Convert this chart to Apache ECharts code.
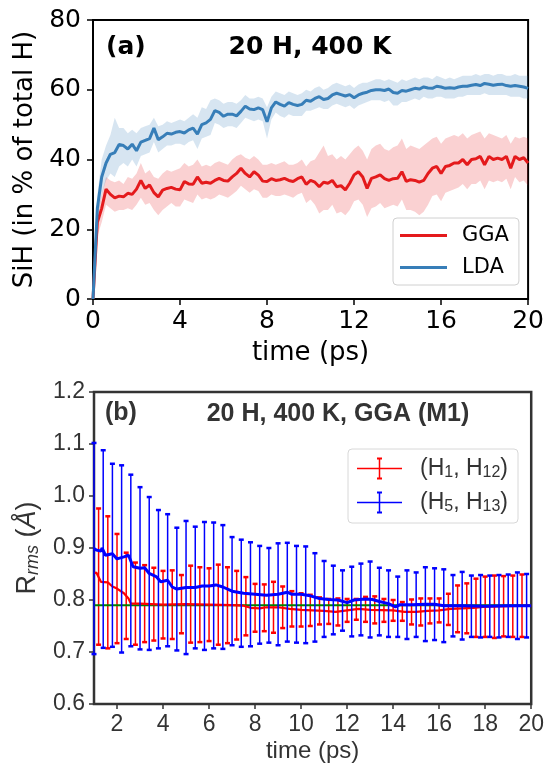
<!DOCTYPE html>
<html><head><meta charset="utf-8">
<script src="https://cdn.jsdelivr.net/npm/echarts@6/dist/echarts.min.js"></script>
<style>html,body{margin:0;padding:0;background:#fff}#c{width:547px;height:764px}</style>
</head><body><div id="c"></div><script>
// ---------- Panel (a) data ----------
const tTop = [0,0.2,0.4,0.6,0.8,1.0,1.2,1.4,1.6,1.8,2.0,2.2,2.4,2.6,2.8,3.0,3.2,3.4,3.6,3.8,4.0,4.2,4.4,4.6,4.8,5.0,5.2,5.4,5.6,5.8,6.0,6.2,6.4,6.6,6.8,7.0,7.2,7.4,7.6,7.8,8.0,8.2,8.4,8.6,8.8,9.0,9.2,9.4,9.6,9.8,10.0,10.2,10.4,10.6,10.8,11.0,11.2,11.4,11.6,11.8,12.0,12.2,12.4,12.6,12.8,13.0,13.2,13.4,13.6,13.8,14.0,14.2,14.4,14.6,14.8,15.0,15.2,15.4,15.6,15.8,16.0,16.2,16.4,16.6,16.8,17.0,17.2,17.4,17.6,17.8,18.0,18.2,18.4,18.6,18.8,19.0,19.2,19.4,19.6,19.8,20.0];
const ggaMean = [0,22,26,31.5,30,29,29.5,29.3,30.3,30,31.5,34,31.7,32.7,30.5,29.3,31.2,31.7,32,31.5,31.3,33.7,33,32.9,35,33.2,33.5,33.2,34,34.6,34,33.8,35,36,37.5,36,35,36.5,35.5,33.8,33.7,34.5,34,34.2,34.6,34,33.7,34.5,35,32.9,34,33.5,32.2,33.5,33.2,34,32.2,32.5,31.3,33.2,35.6,36.5,35,31.7,34.6,35,35.6,34.5,34,34.5,34.6,36.5,33.7,34.2,34,33.5,34,36,37.5,38,36,38,38.3,39,39,40,38.5,40,40.2,40.9,38.5,40.9,40,40.4,40,40.9,37.5,40.9,40,40.5,39];
const ggaHi = [0,25,30,35,34,33.5,34,33,35,34.5,36,39,36,37,35,34.5,36,37,36.5,37,37.5,39,38,38.5,40,38,38.5,38,39,39.5,39,38.5,40,41,41.5,40.5,40,41,40,38.5,38.5,39,38.5,39,39.5,38.5,38.5,39,40,38,39.5,40,42,44,41,41.5,40,41,40,41.5,43,44,42.5,40,43,44,44.5,43,42.5,43.5,44,46,43,44,43.5,43,44,45,46,46.5,44.5,46,46.5,47,46.5,47.5,46,47,47.5,48,46,47.5,47,46.5,46,47,44.5,46.5,46,46.5,46];
const ggaLo = [0,18,22,27,26,25,25.5,25.5,26,25.5,27,29,27,27.5,25.5,24,25.5,26.5,27.5,26.5,26.5,28.5,28,27.5,30,28.5,29,28.5,29,30,29.5,29,30,31,32.5,31.5,30.5,31.5,31,29,29,30,29.5,29.5,30,29.5,29,30,30.5,27.5,28.5,27,24.5,25.5,25.5,27,24.5,25,24,25.5,28,28.5,27,23.5,26,26.5,27.5,26,26.5,27,26.5,28.5,25.5,25.5,25,24,25,27,29.5,30,28,30.5,31,31.5,32,33,31.5,33,33,34,31.5,34,33.5,34,33.5,34.5,31.5,35,33.5,34,32.5];
const ldaMean = [0,26,35,39,41.5,42,44.3,44,43,44.4,42.5,45,45.5,46,49,45.7,46.5,47.5,47.3,47.8,48,47.6,48.5,49,47.3,50,50.5,51.5,54,53.5,52.4,53,53,52.5,53.8,55.3,54.5,54.3,54.8,54.3,50.8,54.8,56.5,55.8,55.3,56.3,55.8,55.5,55.8,57,56.7,57.5,58,57.2,57.5,58.5,59,58.6,58.2,58.6,57.7,58.5,59,59.3,59.8,60,60,59.8,60.2,59.2,59,59.8,59.6,60,60.4,60.2,60.8,60.5,60.4,61,60.8,60.4,60.6,60.4,60.8,61,61,61.3,61.5,61.2,61.8,61.6,61.3,61.5,61.6,61.2,61,61.2,61,60.8,60.4];
const ldaHi = [0,30,40,44,47,52,49,49,47.5,48.5,47.5,49,49.5,50,52,49.5,50,51,50.5,51,51.5,51,52,53,52,55,54.5,57,57.5,57,56,56.5,56.5,56,57,58.5,57.5,57.5,58,57.5,55,58,59.5,59,58.5,59.5,59,58.5,59,60,59.5,60.5,61,60,60.5,61.5,62,61.5,61,61.5,60.5,61.5,62,62,62.5,63,63,62.5,63,62.5,62,63,62.5,63,63.5,63,63.5,63.5,63,64,63.5,63,63.5,63,63.5,64,64,64,64.5,64,64.5,64.5,64,64.5,64.5,64,64,64.5,64,64,64];
const ldaLo = [0,22,30,34,36,35,38,39,38,40,38,41,41.5,42,45,42,43,44,44,44.5,44.5,44,45,45.5,43,46,46.5,47,50.5,50,49,49.5,49.5,49,50.5,52,51.5,51,51.5,51,46,51.5,53.5,52.5,52,53,52.5,52.5,52.5,54,54,54.5,55,54.5,54.5,55.5,56,55.5,55,55.5,54.5,55.5,56,56.5,57,57,57,56.5,57,55.5,55.5,56.5,56.5,57,57.5,57,58,57.5,57.5,58,58,57.5,57.5,57.5,58,58,58.5,58.5,58.5,58.5,59,58.5,58.5,58.5,58.5,58.5,58,58,58,57.5,57.5];

// ---------- Panel (b) data ----------
const redT = [1.0,1.1,1.3,1.6,1.8,2.0,2.3,2.5,2.6,3.0,4.0,5.0,6.0,7.0,7.5,7.8,8.2,8.5,9.0,9.5,10.0,11.0,11.5,12.0,12.5,13.0,14.0,14.5,15.0,15.5,16.0,16.5,17.0,17.5,18.0,19.0,20.0];
const redV = [0.851,0.853,0.835,0.834,0.826,0.822,0.813,0.803,0.793,0.793,0.791,0.792,0.791,0.790,0.789,0.785,0.784,0.786,0.786,0.783,0.781,0.779,0.777,0.780,0.783,0.781,0.780,0.777,0.777,0.779,0.780,0.783,0.784,0.785,0.787,0.788,0.789];
const blueT = [1.0,1.1,1.3,1.35,1.5,1.8,2.0,2.3,2.5,2.7,3.0,3.2,3.4,3.7,3.9,4.2,4.4,4.6,5.0,5.4,5.7,6.0,6.3,6.6,7.0,7.5,8.0,8.5,9.0,9.4,9.6,10.0,10.4,10.8,11.2,11.6,12.0,12.3,12.8,13.1,13.4,13.8,14.1,14.3,14.8,15.4,15.8,16.2,17.0,18.0,19.0,19.5,20.0];
const blueV = [0.899,0.896,0.894,0.900,0.886,0.889,0.879,0.883,0.886,0.864,0.861,0.862,0.851,0.845,0.835,0.838,0.825,0.821,0.824,0.824,0.827,0.827,0.829,0.825,0.817,0.813,0.811,0.809,0.811,0.815,0.811,0.811,0.808,0.803,0.801,0.800,0.795,0.800,0.802,0.801,0.797,0.793,0.787,0.791,0.791,0.792,0.792,0.789,0.789,0.788,0.789,0.789,0.789];
const redBarT = [1.2,1.6,2.0,2.4,2.8,3.2,3.6,4.0,4.4,4.8,5.2,5.6,6.0,6.4,6.8,7.2,7.6,8.0,8.4,8.8,9.2,9.6,10.0,10.4,10.8,11.2,11.6,12.0,12.4,12.8,13.2,13.6,14.0,14.4,14.8,15.2,15.6,16.0,16.4,16.8,17.2,17.6,18.0,18.4,18.8,19.2,19.6];
const redBarC = [0.845,0.834,0.822,0.808,0.793,0.793,0.792,0.791,0.791,0.792,0.792,0.791,0.791,0.791,0.790,0.790,0.788,0.785,0.785,0.786,0.786,0.783,0.781,0.780,0.779,0.778,0.777,0.780,0.782,0.782,0.781,0.780,0.780,0.778,0.777,0.777,0.779,0.780,0.782,0.783,0.784,0.785,0.787,0.787,0.788,0.788,0.789];
const redBarE = [0.131,0.127,0.105,0.083,0.079,0.074,0.070,0.065,0.066,0.056,0.074,0.072,0.070,0.077,0.073,0.066,0.056,0.046,0.045,0.049,0.040,0.034,0.032,0.030,0.026,0.024,0.026,0.022,0.020,0.024,0.026,0.022,0.020,0.018,0.024,0.026,0.024,0.023,0.030,0.045,0.048,0.056,0.058,0.060,0.058,0.059,0.060];
const blueBarT = [1.0,1.4,1.8,2.2,2.6,3.0,3.4,3.8,4.2,4.6,5.0,5.4,5.8,6.2,6.6,7.0,7.4,7.8,8.2,8.6,9.0,9.4,9.8,10.2,10.6,11.0,11.4,11.8,12.2,12.6,13.0,13.4,13.8,14.2,14.6,15.0,15.4,15.8,16.2,16.6,17.0,17.4,17.8,18.2,18.6,19.0,19.4,19.8];
const blueBarC = [0.899,0.898,0.886,0.879,0.876,0.861,0.851,0.840,0.838,0.821,0.824,0.824,0.827,0.828,0.825,0.817,0.813,0.811,0.810,0.809,0.811,0.815,0.811,0.810,0.805,0.802,0.800,0.799,0.797,0.801,0.801,0.797,0.793,0.787,0.791,0.791,0.792,0.792,0.789,0.789,0.789,0.788,0.788,0.788,0.788,0.789,0.789,0.789];
const blueBarE = [0.203,0.190,0.176,0.180,0.165,0.156,0.147,0.133,0.127,0.118,0.128,0.117,0.123,0.121,0.119,0.104,0.103,0.100,0.094,0.091,0.098,0.095,0.093,0.093,0.085,0.073,0.066,0.058,0.067,0.069,0.073,0.065,0.064,0.058,0.066,0.062,0.071,0.069,0.070,0.059,0.065,0.059,0.060,0.059,0.060,0.060,0.064,0.061];
const refT = [1, 20];
const refV = [0.79, 0.79];
const xTicksBottom = [2,4,6,8,10,12,14,16,18,20];

// ---------- helpers ----------
const DV = "'DejaVu Sans'";
const LS = "'Liberation Sans', Arial";
const zip = (a, b) => a.map((v, i) => [v, b[i]]);

function bandRender(tArr, lo, hi, color) {
  return function (params, api) {
    if (params.dataIndex !== 0) return;
    const pts = [];
    for (let i = 0; i < tArr.length; i++) pts.push(api.coord([tArr[i], hi[i]]));
    for (let i = tArr.length - 1; i >= 0; i--) pts.push(api.coord([tArr[i], lo[i]]));
    return { type: 'polygon', shape: { points: pts }, style: { fill: color }, silent: true };
  };
}
function errRender(color) {
  return function (params, api) {
    const t = api.value(0), c = api.value(1), e = api.value(2);
    const p1 = api.coord([t, c + e]), p2 = api.coord([t, c - e]);
    const cw = 2.5;
    return { type: 'group', children: [
      { type: 'line', shape: { x1: p1[0], y1: p1[1], x2: p2[0], y2: p2[1] }, style: { stroke: color, lineWidth: 1.5 } },
      { type: 'line', shape: { x1: p1[0] - cw, y1: p1[1], x2: p1[0] + cw, y2: p1[1] }, style: { stroke: color, lineWidth: 2.5 } },
      { type: 'line', shape: { x1: p2[0] - cw, y1: p2[1], x2: p2[0] + cw, y2: p2[1] }, style: { stroke: color, lineWidth: 2.5 } }
    ] };
  };
}
const errIcon = 'path://M0 10.25h45v1.5h-45z M21.75 1h1.5v20h-1.5z M20 0h5v2h-5z M20 20h5v2h-5z';
const lineIcon = 'path://M0 0h47v3h-47z';
const subRich = { s: { fontFamily: LS, fontSize: 16, color: '#333', padding: [9, 0, 0, 0] } };

const chart = echarts.init(document.getElementById('c'), null, { renderer: 'canvas' });
chart.setOption({
  animation: false,
  backgroundColor: '#fff',
  grid: [
    { left: 93, top: 20, width: 438, height: 279, show: true, borderColor: '#000', borderWidth: 2, backgroundColor: 'transparent' },
    { left: 94, top: 392, width: 438, height: 314, show: true, borderColor: '#333', borderWidth: 2.5, backgroundColor: 'transparent' }
  ],
  xAxis: [
    { type: 'value', gridIndex: 0, min: 0, max: 20, interval: 4,
      axisLine: { show: false }, splitLine: { show: false },
      axisTick: { show: true, length: 6, lineStyle: { color: '#000', width: 1.5 } },
      axisLabel: { fontFamily: DV, fontSize: 25, color: '#000', margin: 10 },
      name: 'time (ps)', nameLocation: 'middle', nameGap: 41,
      nameTextStyle: { fontFamily: DV, fontSize: 26, color: '#000' } },
    { type: 'value', gridIndex: 1, min: 1, max: 20,
      axisLine: { show: false }, splitLine: { show: false },
      axisTick: { show: true, length: 5, customValues: xTicksBottom, lineStyle: { color: '#333', width: 1.5 } },
      axisLabel: { customValues: xTicksBottom, fontFamily: LS, fontSize: 23, color: '#333', margin: 9 },
      name: 'time (ps)', nameLocation: 'middle', nameGap: 35,
      nameTextStyle: { fontFamily: LS, fontSize: 24, color: '#333' } }
  ],
  yAxis: [
    { type: 'value', gridIndex: 0, min: 0, max: 80, interval: 20,
      axisLine: { show: false }, splitLine: { show: false },
      axisTick: { show: true, length: 6, lineStyle: { color: '#000', width: 1.5 } },
      axisLabel: { fontFamily: DV, fontSize: 25, color: '#000', margin: 12 },
      name: 'SiH (in % of total H)', nameLocation: 'middle', nameGap: 53, nameRotate: 90,
      nameTextStyle: { fontFamily: DV, fontSize: 26, color: '#000' } },
    { type: 'value', gridIndex: 1, min: 0.6, max: 1.2, interval: 0.1,
      axisLine: { show: false }, splitLine: { show: false },
      axisTick: { show: true, length: 5, lineStyle: { color: '#333', width: 1.5 } },
      axisLabel: { fontFamily: LS, fontSize: 23, color: '#333', margin: 9, formatter: v => v.toFixed(1) },
      name: '{r|R}{sb|rms}{r| (}{i|Å}{r|)}', nameLocation: 'middle', nameGap: 47, nameRotate: 90,
      nameTextStyle: { fontFamily: LS, fontSize: 27, color: '#333',
        rich: { r: { fontFamily: LS, fontSize: 27, color: '#333' },
                i: { fontFamily: LS, fontSize: 27, color: '#333', fontStyle: 'italic' },
                sb: { fontFamily: LS, fontSize: 18, color: '#333', fontStyle: 'italic', padding: [11, 0, 0, 0] } } } }
  ],
  legend: [
    { data: ['GGA', 'LDA'], orient: 'vertical', left: 393, top: 218, icon: lineIcon,
      padding: [7, 10, 7, 7], itemGap: 11, itemWidth: 47, itemHeight: 21,
      backgroundColor: 'rgba(255,255,255,0.85)', borderColor: '#d0d0d0', borderWidth: 1, borderRadius: 4,
      selectedMode: false,
      textStyle: { fontFamily: DV, fontSize: 21, color: '#000', padding: [0, 0, 0, 10] } },
    { data: ['H1H12', 'H5H13'], orient: 'vertical', left: 348, top: 449,
      padding: [8, 10, 8, 9], itemGap: 10, itemWidth: 45, itemHeight: 22, icon: errIcon,
      backgroundColor: 'rgba(255,255,255,0.85)', borderColor: '#d8d8d8', borderWidth: 1, borderRadius: 4,
      selectedMode: false,
      formatter: n => n === 'H1H12' ? '(H{s|1}, H{s|12})' : '(H{s|5}, H{s|13})',
      textStyle: { fontFamily: LS, fontSize: 23, color: '#333', padding: [0, 0, 0, 13], rich: subRich } }
  ],
  graphic: [
    { type: 'text', x: 106, y: 47, style: { text: '(a)', font: "bold 25px 'DejaVu Sans'", fill: '#000', verticalAlign: 'middle' } },
    { type: 'text', x: 310, y: 47, style: { text: '20 H, 400 K', font: "bold 25px 'DejaVu Sans'", fill: '#000', align: 'center', verticalAlign: 'middle' } },
    { type: 'text', x: 105, y: 413, style: { text: '(b)', font: "bold 25px 'Liberation Sans'", fill: '#333', verticalAlign: 'middle' } },
    { type: 'text', x: 338, y: 414, style: { text: '20 H, 400 K, GGA (M1)', font: "bold 25px 'Liberation Sans'", fill: '#333', align: 'center', verticalAlign: 'middle' } }
  ],
  series: [
    { type: 'custom', name: 'GGA band', xAxisIndex: 0, yAxisIndex: 0, z: 1,
      renderItem: bandRender(tTop, ggaLo, ggaHi, 'rgba(228,26,28,0.2)'),
      data: [[tTop[0], ggaLo[0]]], encode: { x: 0, y: 1 } },
    { type: 'custom', name: 'LDA band', xAxisIndex: 0, yAxisIndex: 0, z: 1,
      renderItem: bandRender(tTop, ldaLo, ldaHi, 'rgba(55,126,184,0.2)'),
      data: [[tTop[0], ldaLo[0]]], encode: { x: 0, y: 1 } },
    { type: 'line', name: 'GGA', xAxisIndex: 0, yAxisIndex: 0, z: 3, symbol: 'none',
      data: zip(tTop, ggaMean), lineStyle: { color: '#e41a1c', width: 3 }, itemStyle: { color: '#e41a1c' } },
    { type: 'line', name: 'LDA', xAxisIndex: 0, yAxisIndex: 0, z: 3, symbol: 'none',
      data: zip(tTop, ldaMean), lineStyle: { color: '#377eb8', width: 3 }, itemStyle: { color: '#377eb8' } },

    { type: 'custom', name: 'H1H12', xAxisIndex: 1, yAxisIndex: 1, z: 2,
      renderItem: errRender('#ff0000'), itemStyle: { color: '#ff0000' },
      data: redBarT.map((t, i) => [t, redBarC[i], redBarE[i]]), encode: { x: 0, y: 1 } },
    { type: 'custom', name: 'H5H13', xAxisIndex: 1, yAxisIndex: 1, z: 4,
      renderItem: errRender('#0000ff'), itemStyle: { color: '#0000ff' },
      data: blueBarT.map((t, i) => [t, blueBarC[i], blueBarE[i]]), encode: { x: 0, y: 1 } },
    { type: 'line', name: 'ref', xAxisIndex: 1, yAxisIndex: 1, z: 3, symbol: 'none',
      data: zip(refT, refV), lineStyle: { color: '#008000', width: 2 } },
    { type: 'line', name: 'H1H12', xAxisIndex: 1, yAxisIndex: 1, z: 3, symbol: 'none',
      data: zip(redT, redV), lineStyle: { color: '#ff0000', width: 2.2 }, itemStyle: { color: '#ff0000' } },
    { type: 'line', name: 'H5H13', xAxisIndex: 1, yAxisIndex: 1, z: 5, symbol: 'none',
      data: zip(blueT, blueV), lineStyle: { color: '#0000ff', width: 3 }, itemStyle: { color: '#0000ff' } }
  ]
});
</script></body></html>
